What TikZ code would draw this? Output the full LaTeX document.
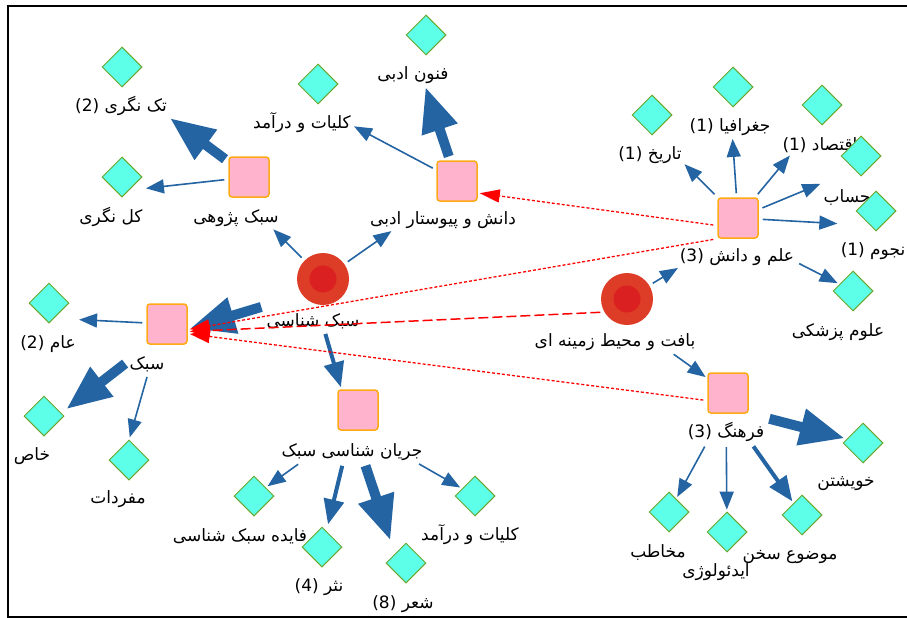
\documentclass[tikz,border=0pt]{standalone}
\usepackage{fontspec}
\newfontfamily\fafont[Script=Arabic]{DejaVu Sans}
\TeXXeTstate=1
\usetikzlibrary{shapes.geometric,arrows.meta,fit}
\definecolor{edgeblue}{RGB}{36,100,162}
\definecolor{leafcyan}{RGB}{94,255,233}
\definecolor{leafgreen}{RGB}{107,165,45}
\definecolor{topicpink}{RGB}{255,179,204}
\definecolor{topicorange}{RGB}{255,170,20}
\definecolor{rootred}{RGB}{221,61,38}
\definecolor{corered}{RGB}{218,32,32}
\definecolor{linkred}{RGB}{255,0,0}
\begin{document}
\begin{tikzpicture}[x=1pt, y=-1pt,
	leaf/.style={diamond, draw=leafgreen, fill=leafcyan, line width=1pt, minimum width=40pt, minimum height=40pt, inner sep=0pt},
	topic/.style={rectangle, rounded corners=3pt, draw=topicorange, fill=topicpink, line width=1.5pt, minimum size=40pt, inner sep=0pt},
	root/.style={circle, fill=rootred, minimum size=52pt, inner sep=0pt, path picture={\fill[corered] (path picture bounding box.center) circle (13.5pt);}},
	lbl/.style={font=\fafont\fontsize{17}{19}\selectfont, inner sep=1pt},
	grp/.style={fit=#1, inner sep=0pt},
	thinarr/.style={draw=edgeblue, line width=1.6pt, -{Triangle[length=18pt, width=14pt]}, shorten <=4pt, shorten >=2pt},
	midarr/.style={draw=edgeblue, line width=4pt, -{Triangle[length=25pt, width=20pt]}, shorten <=4pt, shorten >=2pt},
	thickarr/.style={draw=edgeblue, line width=10pt, -{Triangle[length=45pt, width=35pt]}, shorten <=4pt, shorten >=2pt},
	dotarr/.style={draw=linkred, line width=1.3pt, dash pattern=on 3pt off 2pt, -{Triangle[length=20pt, width=13pt]}, shorten <=4pt, shorten >=2pt},
	dasharr/.style={draw=linkred, line width=1.5pt, dash pattern=on 10pt off 4pt, -{Triangle[length=20pt, width=13pt]}, shorten <=4pt, shorten >=2pt}]
	\useasboundingbox (0,0) rectangle (907,618);
	\draw[black, line width=2pt] (910,6) -- (8,6) -- (8,617) -- (910,617);
	\node[lbl] (ktn-l) at (121,106) {\beginR تک نگری \beginL(2)\endL\endR};
	\node[lbl] (kln-l) at (111,217) {\beginR کل نگری\endR};
	\node[lbl] (sp-l) at (236,218) {\beginR سبک پژوهی\endR};
	\node[lbl] (kd1-l) at (302,123) {\beginR کلیات و درآمد\endR};
	\node[lbl] (fa-l) at (413,75) {\beginR فنون ادبی\endR};
	\node[lbl] (dp-l) at (443,220) {\beginR دانش و پیوستار ادبی\endR};
	\node[lbl] (ss-l) at (313,321) {\beginR سبک شناسی\endR};
	\node[lbl] (sb-l) at (147,364) {\beginR سبک\endR};
	\node[lbl] (am-l) at (48,344) {\beginR عام \beginL(2)\endL\endR};
	\node[lbl] (kh-l) at (32,456) {\beginR خاص\endR};
	\node[lbl] (mf-l) at (118,499) {\beginR مفردات\endR};
	\node[lbl] (js-l) at (352,452) {\beginR جریان شناسی سبک\endR};
	\node[lbl] (fs-l) at (240,536) {\beginR فایده سبک شناسی\endR};
	\node[lbl] (nr-l) at (319,587) {\beginR نثر \beginL(4)\endL\endR};
	\node[lbl] (sh-l) at (403,604) {\beginR شعر \beginL(8)\endL\endR};
	\node[lbl] (kd2-l) at (470,535) {\beginR کلیات و درآمد\endR};
	\node[lbl] (bm-l) at (615,342) {\beginR بافت و محیط زمینه ای\endR};
	\node[lbl] (ed-l) at (737,257) {\beginR علم و دانش \beginL(3)\endL\endR};
	\node[lbl] (tr-l) at (650,155) {\beginR تاریخ \beginL(1)\endL\endR};
	\node[lbl] (jg-l) at (730,127) {\beginR جغرافیا \beginL(1)\endL\endR};
	\node[lbl] (eq-l) at (820,145) {\beginR اقتصاد \beginL(1)\endL\endR};
	\node[lbl] (hs-l) at (847,197) {\beginR حساب\endR};
	\node[lbl] (nj-l) at (873,251) {\beginR نجوم \beginL(1)\endL\endR};
	\node[lbl] (ep-l) at (838,332) {\beginR علوم پزشکی\endR};
	\node[lbl] (fr-l) at (726,432) {\beginR فرهنگ \beginL(3)\endL\endR};
	\node[lbl] (kw-l) at (846,484) {\beginR خویشتن\endR};
	\node[lbl] (mk-l) at (658,552) {\beginR مخاطب\endR};
	\node[lbl] (id-l) at (716,572) {\beginR ایدئولوژی\endR};
	\node[lbl] (ms-l) at (790,557) {\beginR موضوع سخن\endR};
	\node[leaf] (ktn) at (122,67) {};
	\node[leaf] (kln) at (122,177) {};
	\node[topic] (sp) at (249,177) {};
	\node[leaf] (kd1) at (318,84) {};
	\node[leaf] (fa) at (426,35) {};
	\node[topic] (dp) at (457,181) {};
	\node[root] (ss) at (323,279) {};
	\node[topic] (sb) at (167,324) {};
	\node[leaf] (am) at (49,303) {};
	\node[leaf] (kh) at (44,416) {};
	\node[leaf] (mf) at (129,460) {};
	\node[topic] (js) at (358,410) {};
	\node[leaf] (fs) at (254,496) {};
	\node[leaf] (nr) at (322,547) {};
	\node[leaf] (sh) at (406,563) {};
	\node[leaf] (kd2) at (475,496) {};
	\node[root] (bm) at (627,299) {};
	\node[topic] (ed) at (738,218) {};
	\node[leaf] (tr) at (652,115) {};
	\node[leaf] (jg) at (733,87) {};
	\node[leaf] (eq) at (822,105) {};
	\node[leaf] (hs) at (861,156) {};
	\node[leaf] (nj) at (876,211) {};
	\node[leaf] (ep) at (853,291) {};
	\node[topic] (fr) at (728,393) {};
	\node[leaf] (kw) at (863,443) {};
	\node[leaf] (mk) at (669,512) {};
	\node[leaf] (id) at (727,532) {};
	\node[leaf] (ms) at (802,515) {};
	\node[grp={(ktn)(ktn-l)}] (ktn-b) {};
	\node[grp={(kln)(kln-l)}] (kln-b) {};
	\node[grp={(sp)(sp-l)}] (sp-b) {};
	\node[grp={(kd1)(kd1-l)}] (kd1-b) {};
	\node[grp={(fa)(fa-l)}] (fa-b) {};
	\node[grp={(dp)(dp-l)}] (dp-b) {};
	\node[grp={(ss)(ss-l)}] (ss-b) {};
	\node[grp={(sb)(sb-l)}] (sb-b) {};
	\node[grp={(am)(am-l)}] (am-b) {};
	\node[grp={(kh)(kh-l)}] (kh-b) {};
	\node[grp={(mf)(mf-l)}] (mf-b) {};
	\node[grp={(js)(js-l)}] (js-b) {};
	\node[grp={(nr)(nr-l)}] (nr-b) {};
	\node[grp={(sh)(sh-l)}] (sh-b) {};
	\node[grp={(bm)(bm-l)}] (bm-b) {};
	\node[grp={(ed)(ed-l)}] (ed-b) {};
	\node[grp={(tr)(tr-l)}] (tr-b) {};
	\node[grp={(jg)(jg-l)}] (jg-b) {};
	\node[grp={(eq)(eq-l)}] (eq-b) {};
	\node[grp={(hs)(hs-l)}] (hs-b) {};
	\node[grp={(nj)(nj-l)}] (nj-b) {};
	\node[grp={(fr)(fr-l)}] (fr-b) {};
	\draw[thinarr] (sp) -- (kln-b);
	\draw[thickarr] (sp) -- (ktn-b);
	\draw[thinarr] (ss) -- (sp-b);
	\draw[thinarr] (ss) -- (dp-b);
	\draw[thinarr] (dp) -- (kd1-b);
	\draw[thickarr] (dp) -- (fa-b);
	\draw[thickarr] (ss-b) -- (sb-b);
	\draw[thinarr] (sb) -- (am-b);
	\draw[thickarr] (sb-b) -- (kh-b);
	\draw[thinarr] (sb-b) -- (mf-b);
	\draw[midarr] (ss-b) -- (js-b);
	\draw[thinarr] (js-b) -- (fs);
	\draw[midarr] (js-b) -- (nr-b);
	\draw[thickarr] (js-b) -- (sh-b);
	\draw[thinarr] (js-b) -- (kd2);
	\draw[thinarr] (bm) -- (ed-b);
	\draw[thinarr] (ed) -- (tr-b);
	\draw[thinarr] (ed) -- (jg-b);
	\draw[thinarr] (ed) -- (eq-b);
	\draw[thinarr] (ed) -- (hs-b);
	\draw[thinarr] (ed) -- (nj-b);
	\draw[thinarr] (ed-b) -- (ep);
	\draw[thinarr] (bm-b) -- (fr);
	\draw[thickarr] (fr-b) -- (kw);
	\draw[thinarr] (fr-b) -- (mk);
	\draw[thinarr] (fr-b) -- (id);
	\draw[midarr] (fr-b) -- (ms);
	\draw[dotarr] (ed.200) -- (dp.-30);
	\draw[dotarr] (ed.south west) -- (sb.-15);
	\draw[dasharr] (bm.210) -- (sb.-20);
	\draw[dotarr] (fr.200) -- (sb.-25);
\end{tikzpicture}
\end{document}
